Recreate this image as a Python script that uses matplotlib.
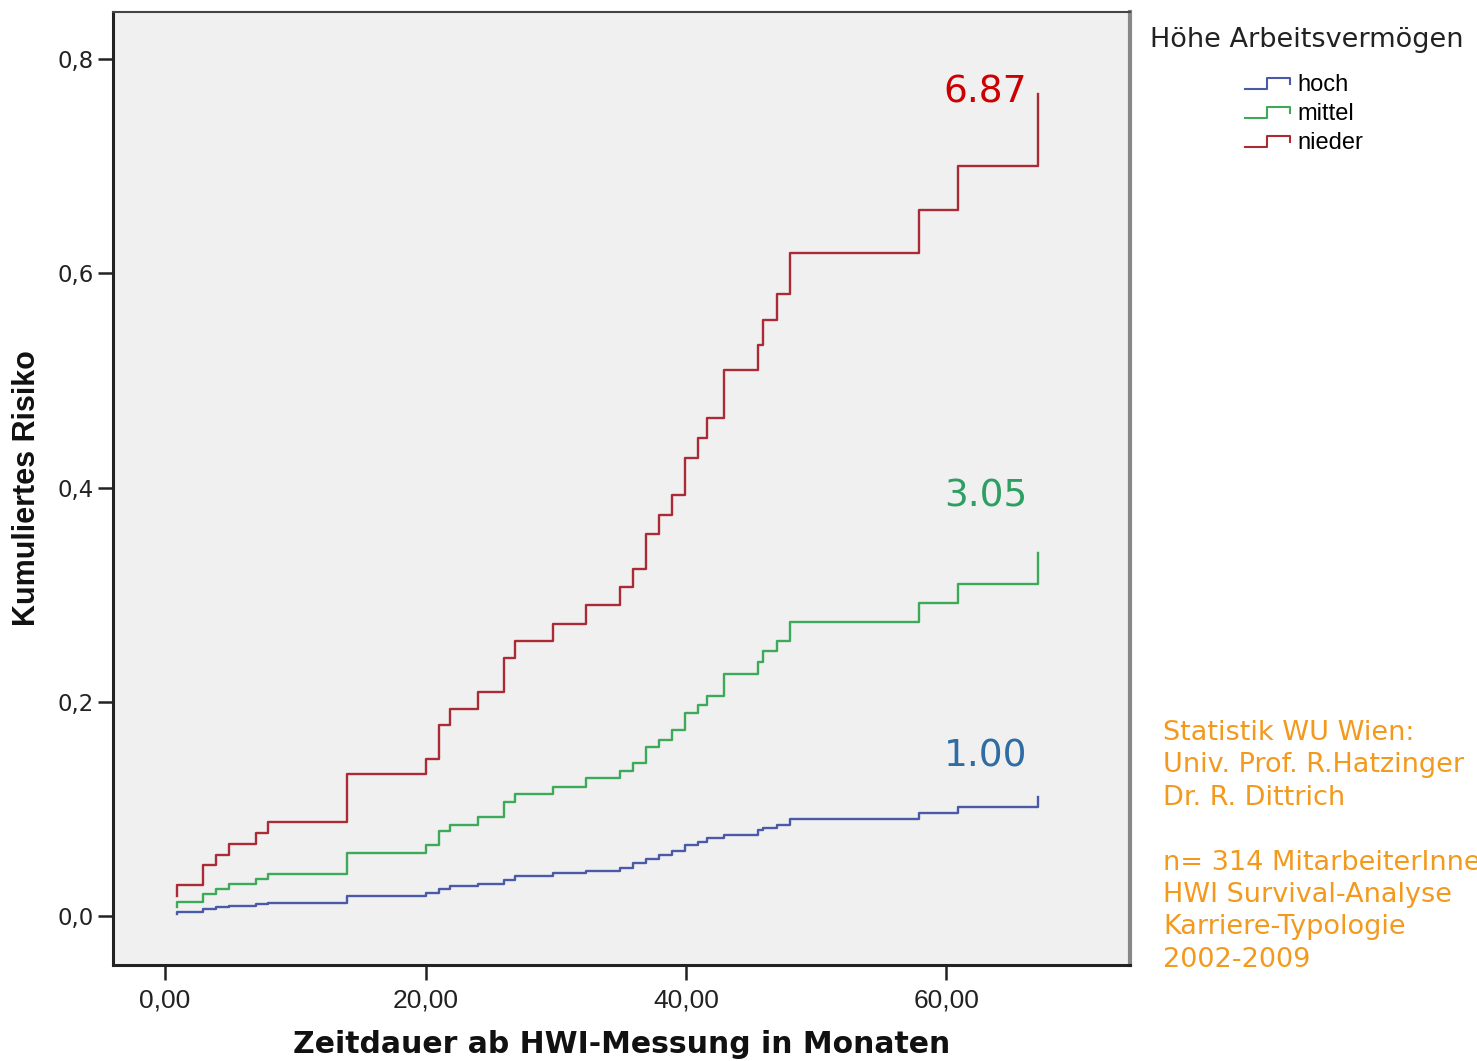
import matplotlib
matplotlib.use("Agg")
import matplotlib.pyplot as plt
from matplotlib.lines import Line2D
from matplotlib.legend_handler import HandlerBase

# event times (months) shared by the three groups
months = [0.9, 0.9, 2.9, 3.9, 4.9, 7.0, 7.9, 14.0, 20.0, 21.0, 21.9, 24.0,
          26.0, 26.9, 29.8, 32.3, 34.9, 35.9, 36.9, 37.9, 38.9, 39.9, 40.9,
          41.6, 42.9, 45.5, 45.9, 47.0, 48.0, 57.9, 60.9, 67.0]

# cumulative risk per group
risk_hoch = [0.002, 0.004, 0.0065, 0.008, 0.009, 0.011, 0.012, 0.0187, 0.021,
             0.025, 0.028, 0.030, 0.034, 0.037, 0.040, 0.042, 0.045, 0.049,
             0.053, 0.057, 0.061, 0.066, 0.069, 0.073, 0.076, 0.080, 0.082,
             0.085, 0.0905, 0.096, 0.102, 0.111]
risk_mittel = [0.008, 0.013, 0.0205, 0.025, 0.030, 0.0345, 0.039, 0.059, 0.066,
               0.079, 0.085, 0.0925, 0.1065, 0.114, 0.120, 0.129, 0.135, 0.143,
               0.158, 0.164, 0.1735, 0.1895, 0.197, 0.205, 0.226, 0.237, 0.247,
               0.257, 0.274, 0.292, 0.310, 0.339]
risk_nieder = [0.019, 0.029, 0.048, 0.057, 0.067, 0.077, 0.088, 0.133, 0.147,
               0.178, 0.193, 0.209, 0.241, 0.257, 0.273, 0.290, 0.307, 0.324,
               0.357, 0.374, 0.393, 0.428, 0.446, 0.465, 0.510, 0.533, 0.556,
               0.581, 0.619, 0.659, 0.700, 0.767]

groups = ["hoch", "mittel", "nieder"]
line_colors = ["#4a5aa8", "#3daa5a", "#aa2a36"]

# hazard ratios written next to the curves
hazard_ratios = ["1.00", "3.05", "6.87"]
hr_colors = ["#2f6ca3", "#2e9e62", "#cc0000"]
hr_pos = [(66.2, 0.1485), (66.2, 0.392), (66.2, 0.769)]

yticks = [0.0, 0.2, 0.4, 0.6, 0.8]
ytick_labels = ["0,0", "0,2", "0,4", "0,6", "0,8"]
xticks = [0, 20, 40, 60]
xtick_labels = ["0,00", "20,00", "40,00", "60,00"]

note_lines = ["Statistik WU Wien:", "Univ. Prof. R.Hatzinger", "Dr. R. Dittrich", "",
              "n= 314 MitarbeiterInnen", "HWI Survival-Analyse",
              "Karriere-Typologie", "2002-2009"]


class StepHandler(HandlerBase):
    # little step glyph used as legend key
    def create_artists(self, legend, orig_handle, xdescent, ydescent,
                       width, height, fontsize, trans):
        xs = [0.0, 0.48, 0.48, 1.0, 1.0]
        ys = [0.15, 0.15, 0.8, 0.8, 0.45]
        ln = Line2D([x * width - xdescent for x in xs],
                    [y * height - ydescent for y in ys],
                    color=orig_handle.get_color(), lw=1.5)
        ln.set_transform(trans)
        return [ln]


fig = plt.figure(figsize=(14.77, 10.61), dpi=100, facecolor="white")
ax = fig.add_axes([113 / 1477, 96 / 1061, 1017 / 1477, 953 / 1061])
ax.set_facecolor("#f0f0f0")

series = [risk_hoch, risk_mittel, risk_nieder]
handles = []
for vals, col, name in zip(series, line_colors, groups):
    h, = ax.plot(months, vals, drawstyle="steps-post", color=col, lw=1.7, label=name)
    handles.append(h)

for txt, col, (x, y) in zip(hazard_ratios, hr_colors, hr_pos):
    ax.text(x, y, txt, color=col, fontsize=27, ha="right", va="center",
            family="DejaVu Sans")

ax.set_xlim(-4.0, 74.1)
ax.set_ylim(-0.0458, 0.844)
ax.set_yticks(yticks)
ax.set_yticklabels(ytick_labels, fontsize=16.5, color="#222222", family="DejaVu Sans")
ax.set_xticks(xticks)
ax.set_xticklabels(xtick_labels, fontsize=19, color="#222222", family="Liberation Sans")
ax.tick_params(axis="both", direction="out", length=11, width=1.8, color="#222222")
ax.tick_params(axis="y", pad=3)
ax.tick_params(axis="x", pad=6)

for side in ["left", "bottom"]:
    ax.spines[side].set_linewidth(2.2)
    ax.spines[side].set_color("#222222")
ax.spines["top"].set_linewidth(1.5)
ax.spines["top"].set_color("#444444")
ax.spines["right"].set_linewidth(3)
ax.spines["right"].set_color("#888888")

ax.set_ylabel("Kumuliertes Risiko", fontsize=22, fontweight="bold",
              family="Liberation Sans", color="#111111")
ax.yaxis.set_label_coords(-0.070, 0.5)
ax.set_xlabel("Zeitdauer ab HWI-Messung in Monaten", fontsize=21.5, fontweight="bold",
              family="DejaVu Sans", color="#111111")
ax.xaxis.set_label_coords(0.5, -0.068)

# legend: title as separate text, entries indented below it
fig.text(1150 / 1477, 1 - 40 / 1061, "Höhe Arbeitsvermögen", fontsize=19.5,
         color="#222222", family="DejaVu Sans", ha="left", va="center")
fig.legend(handles=handles, labels=groups, loc="upper left",
           bbox_to_anchor=(1245 / 1477, 1 - 74 / 1061), bbox_transform=fig.transFigure,
           frameon=False, handler_map={Line2D: StepHandler()},
           handlelength=1.9, handletextpad=0.3, labelspacing=0.3, borderpad=0,
           borderaxespad=0, prop={"family": "Liberation Sans", "size": 17})

fig.text(1163 / 1477, 1 - 720 / 1061, "\n".join(note_lines), fontsize=19.5,
         color="#f39a1e", family="DejaVu Sans", ha="left", va="top",
         linespacing=1.32)

fig.savefig("out.png", dpi=100, facecolor="white")
